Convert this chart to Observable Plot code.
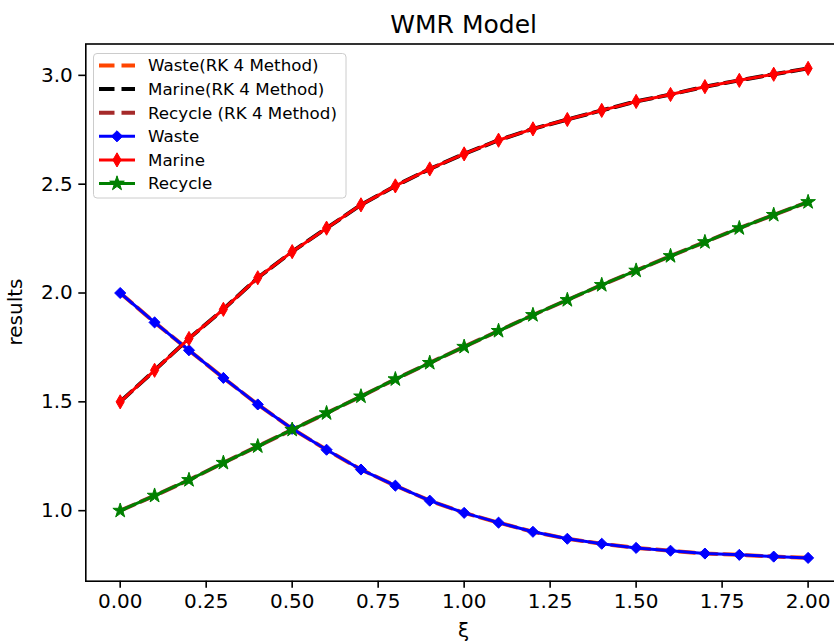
<!DOCTYPE html>
<html>
<head>
<meta charset="utf-8">
<script src="https://cdn.jsdelivr.net/npm/d3@7"></script>
<script src="https://cdn.jsdelivr.net/npm/@observablehq/plot@0.6"></script>
<style>
  html, body { margin: 0; padding: 0; background: #fff; }
  body { width: 834px; height: 642px; overflow: hidden; position: relative; font-family: "DejaVu Sans", sans-serif; color: #000; }
  #chart { position: absolute; left: 0; top: 0; width: 842px; }
  #chart svg { max-width: none !important; }
  .lbl { position: absolute; white-space: nowrap; line-height: 1; }
</style>
</head>
<body>
<div id="chart"></div>
<div class="lbl" id="title" style="left:85.3px; width:756.7px; top:12px; text-align:center; font-size:25px;">WMR Model</div>
<div class="lbl" id="xlabel" style="left:85.3px; width:756.7px; top:620px; text-align:center; font-size:20px;">ξ</div>
<div class="lbl" id="ylabel" style="left:15px; top:312px; font-size:20px; transform: translate(-50%,-50%) rotate(-90deg);">results</div>
<script>
// ---- data ----
const xi = [0, 0.1, 0.2, 0.3, 0.4, 0.5, 0.6, 0.7, 0.8, 0.9, 1.0, 1.1, 1.2, 1.3, 1.4, 1.5, 1.6, 1.7, 1.8, 1.9, 2.0];
const waste = [2.0, 1.865, 1.737, 1.61, 1.488, 1.376, 1.28, 1.189, 1.115, 1.046, 0.99, 0.945, 0.903, 0.871, 0.848, 0.829, 0.816, 0.803, 0.797, 0.789, 0.783];
const marine = [1.5, 1.645, 1.791, 1.925, 2.07, 2.19, 2.298, 2.405, 2.492, 2.57, 2.639, 2.702, 2.754, 2.797, 2.839, 2.88, 2.912, 2.948, 2.977, 3.005, 3.032];
const recycle = [1.0, 1.069, 1.141, 1.22, 1.296, 1.372, 1.448, 1.525, 1.604, 1.679, 1.753, 1.826, 1.899, 1.968, 2.037, 2.103, 2.17, 2.234, 2.298, 2.359, 2.418];
// RK 4 solutions (visually identical to the series above)
const wasteRK4 = waste.slice();
const marineRK4 = marine.slice();
const recycleRK4 = recycle.slice();
const xTicks = [0, 0.25, 0.5, 0.75, 1.0, 1.25, 1.5, 1.75, 2.0];
const yTicks = [1.0, 1.5, 2.0, 2.5, 3.0];
const legendLabels = ["Waste(RK 4 Method)", "Marine(RK 4 Method)", "Recycle (RK 4 Method)", "Waste", "Marine", "Recycle"];

const toRows = (ys) => xi.map((x, i) => ({x, y: ys[i]}));

const dashed = [
  {rows: toRows(wasteRK4), color: "#ff4500"},
  {rows: toRows(marineRK4), color: "#000000"},
  {rows: toRows(recycleRK4), color: "#a52a2a"}
];
const solid = [
  {rows: toRows(waste), color: "#0000ff", symbol: "diamond2", r: 5.0},
  {rows: toRows(marine), color: "#ff0000", symbol: "diamond", r: 4.3},
  {rows: toRows(recycle), color: "#008000", symbol: "star", r: 4.6}
];

const DASH = "15.5,7";
const marks = [Plot.frame({stroke: "#000", strokeWidth: 1.6})];
for (const d of dashed) {
  marks.push(Plot.line(d.rows, {x: "x", y: "y", stroke: d.color, strokeWidth: 4, strokeDasharray: DASH}));
}
for (const s of solid) {
  marks.push(Plot.line(s.rows, {x: "x", y: "y", stroke: s.color, strokeWidth: 3}));
  marks.push(Plot.dot(s.rows, {x: "x", y: "y", symbol: s.symbol, r: s.r, fill: s.color, stroke: s.color, strokeWidth: 1}));
}
marks.push(Plot.axisX({ticks: xTicks, tickFormat: d3.format(".2f"), tickSize: 7, tickPadding: 6, strokeWidth: 1.6, label: null, fontSize: 20}));
marks.push(Plot.axisY({ticks: yTicks, tickFormat: d3.format(".1f"), tickSize: 7, tickPadding: 6, strokeWidth: 1.6, label: null, fontSize: 20}));

const chart = Plot.plot({
  width: 842,
  height: 642,
  marginTop: 43.5,
  marginBottom: 61.3,
  marginLeft: 85.3,
  marginRight: 0,
  style: {fontFamily: "DejaVu Sans", fontSize: "20px", color: "#000", background: "#fff", overflow: "visible", maxWidth: "none"},
  x: {domain: [-0.1, 2.1]},
  y: {domain: [0.676, 3.144]},
  marks
});
document.getElementById("chart").appendChild(chart);

// ---- legend ----
const lg = d3.select("body").append("svg")
  .attr("width", 254).attr("height", 146)
  .style("position", "absolute").style("left", "93px").style("top", "52.5px")
  .style("font-family", "DejaVu Sans");
lg.append("rect").attr("x", 0.5).attr("y", 0.5).attr("width", 252.5).attr("height", 144.5)
  .attr("rx", 3.5).attr("fill", "rgba(255,255,255,0.8)").attr("stroke", "#cccccc").attr("stroke-width", 1);
const symMap = {diamond2: d3.symbolDiamond2, diamond: d3.symbolDiamond, star: d3.symbolStar};
const entries = [
  ...dashed.map(d => ({color: d.color, dashed: true})),
  ...solid.map(s => ({color: s.color, symbol: s.symbol, r: s.r}))
];
entries.forEach((e, i) => {
  const cy = 12.5 + i * 23.6;
  const g = lg.append("g");
  g.append("line").attr("x1", 6).attr("x2", 42).attr("y1", cy).attr("y2", cy)
    .attr("stroke", e.color).attr("stroke-width", e.dashed ? 4 : 3)
    .attr("stroke-dasharray", e.dashed ? DASH : null);
  if (!e.dashed) {
    g.append("path").attr("d", d3.symbol(symMap[e.symbol], Math.PI * e.r * e.r)())
      .attr("transform", `translate(24,${cy})`).attr("fill", e.color).attr("stroke", e.color).attr("stroke-width", 1);
  }
  g.append("text").attr("x", 55).attr("y", cy).attr("dy", "0.35em")
    .attr("font-size", 16.7).attr("fill", "#000").text(legendLabels[i]);
});
</script>
</body>
</html>
